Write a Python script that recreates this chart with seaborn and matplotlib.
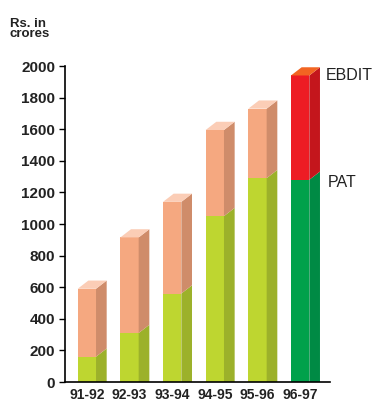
import matplotlib
matplotlib.use('Agg')
import matplotlib.pyplot as plt
from matplotlib.patches import Polygon
import seaborn as sns

years = ['91-92', '92-93', '93-94', '94-95', '95-96', '96-97']
pat = [160, 310, 560, 1050, 1290, 1280]
ebdit = [590, 915, 1140, 1595, 1730, 1940]

# front / side / top colours, last year highlighted
ebdit_front = ['#F5A880'] * 5 + ['#ED1C24']
ebdit_side = ['#CF8C6A'] * 5 + ['#C4161C']
ebdit_top = ['#FBCDB6'] * 5 + ['#F26522']
pat_front = ['#BED630'] * 5 + ['#00A14B']
pat_side = ['#9CB12A'] * 5 + ['#008A44']

sns.set_style('white')
plt.rcParams['font.family'] = ['Liberation Sans', 'DejaVu Sans']

fig = plt.figure(figsize=(3.73, 4.03), dpi=100)
ax = fig.add_axes([65 / 373, 21 / 403, 265 / 373, 316 / 403])

w = 0.43
dx = 0.25
dy = 52

sns.barplot(x=years, y=ebdit, hue=years, palette=ebdit_front, width=w,
            saturation=1, legend=False, linewidth=0, ax=ax)
sns.barplot(x=years, y=pat, hue=years, palette=pat_front, width=w,
            saturation=1, legend=False, linewidth=0, ax=ax)

for i in range(len(years)):
    x0 = i - w / 2
    x1 = i + w / 2
    x2 = x1 + dx
    p, t = pat[i], ebdit[i]
    ax.add_patch(Polygon([(x1, 0), (x2, 0), (x2, p + dy), (x1, p)],
                         closed=True, color=pat_side[i], lw=0, clip_on=False))
    ax.add_patch(Polygon([(x1, p), (x2, p + dy), (x2, t + dy), (x1, t)],
                         closed=True, color=ebdit_side[i], lw=0, clip_on=False))
    ax.add_patch(Polygon([(x0, t), (x1, t), (x2, t + dy), (x0 + dx, t + dy)],
                         closed=True, color=ebdit_top[i], lw=0, clip_on=False))

ax.set_xlim(-0.512, 5.70)
ax.set_ylim(0, 2000)
ax.set_yticks(range(0, 2001, 200))
ax.set_xlabel('')
ax.set_ylabel('')
sns.despine(ax=ax)
for s in ['left', 'bottom']:
    ax.spines[s].set_color('black')
    ax.spines[s].set_linewidth(1.2)
ax.tick_params(axis='y', left=True, length=4, width=1, color='black', pad=3)
ax.tick_params(axis='x', bottom=False, pad=1)
for lab in ax.get_yticklabels():
    lab.set_fontweight('bold')
    lab.set_fontsize(11)
    lab.set_color('#222222')
for lab in ax.get_xticklabels():
    lab.set_fontweight('bold')
    lab.set_fontsize(10)
    lab.set_color('#222222')

fig.text(10 / 373, 1 - 29 / 403, 'Rs. in\ncrores', fontsize=9.5, fontweight='bold',
         color='#222222', va='center', ha='left', linespacing=0.8)
fig.text(326 / 373, 1 - 75 / 403, 'EBDIT', fontsize=11.5, color='#222222',
         va='center', ha='left')
fig.text(328 / 373, 1 - 183 / 403, 'PAT', fontsize=11.5, color='#222222',
         va='center', ha='left')

fig.savefig('out.png', dpi=100)
